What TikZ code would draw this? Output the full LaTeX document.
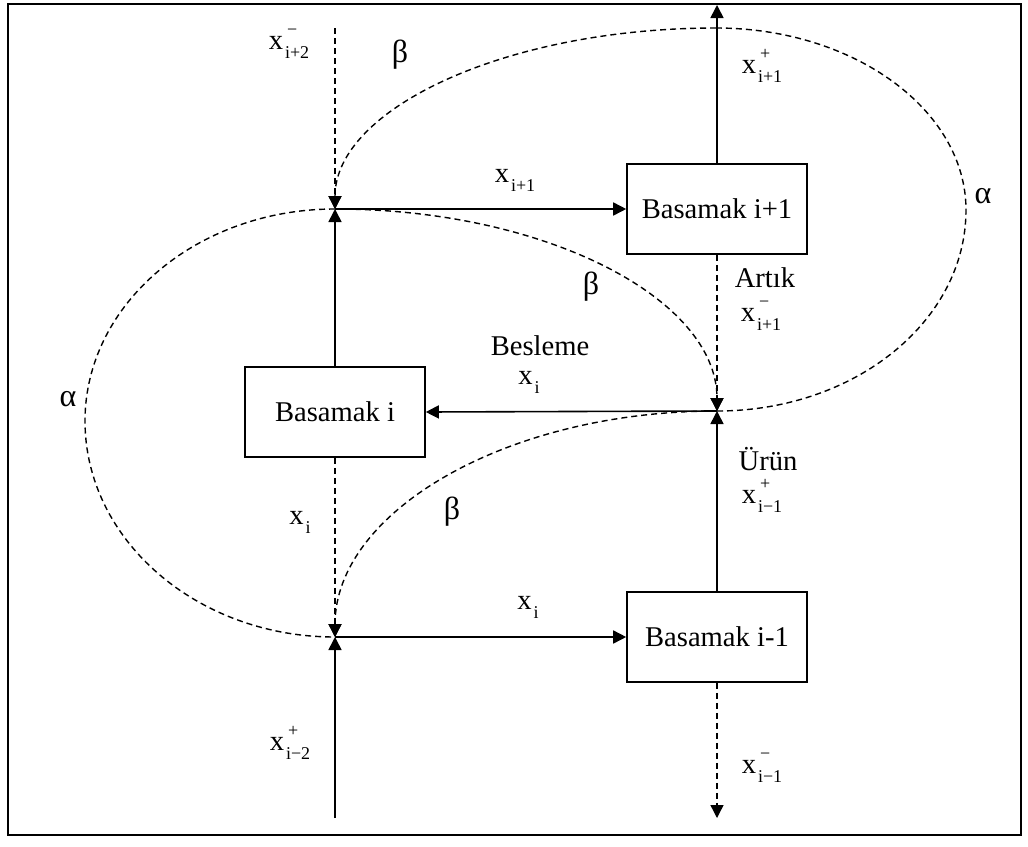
\documentclass[tikz,border=0pt]{standalone}
\usepackage{fontspec}
\setmainfont{Liberation Serif}
\usetikzlibrary{arrows.meta}

\newcommand\xlab[2]{x\kern1pt\makebox[0pt][l]{\raisebox{7pt}{\fontsize{9}{9}\selectfont\kern1pt#1}}\raisebox{-4.5pt}{\fontsize{9}{9}\selectfont #2}}

\begin{document}
\begin{tikzpicture}[x=0.5pt, y=-0.5pt, font=\fontsize{14.3}{16}\selectfont,
  stage/.style={draw, line width=0.8pt, minimum width=90pt, minimum height=45pt, inner sep=0pt},
  flow/.style={line width=0.8pt, -{Triangle[length=6.5pt,width=6.5pt]}},
  loopline/.style={line width=0.7pt, dash pattern=on 3pt off 2pt},
  lbl/.style={inner sep=0pt},
  greek/.style={inner sep=0pt, font=\fontsize{16}{16}\selectfont}]
  \useasboundingbox (0,0) rectangle (1028,846);
  \draw[line width=1.1pt] (8,4) rectangle (1021,835);

  \node[stage] (bi1) at (717,209) {Basamak i+1};
  \node[stage] (bi) at (335,412) {Basamak i};
  \node[stage] (bim1) at (717,637) {Basamak i-1};
  \coordinate (tj) at (335,209);
  \coordinate (rj) at (717,411);
  \coordinate (bj) at (335,637);
  \coordinate (in2) at (335,28);
  \coordinate (in1) at (335,818);
  \coordinate (out2) at (717,5);
  \coordinate (out1) at (717,818);
  \coordinate (ra) at (966,210);
  \coordinate (rt) at (716,28);
  \coordinate (la) at (85,421);

  % alpha ve beta donguleri
  \draw[loopline] (rj) .. controls +(138,0) and +(0,111) .. (ra)
    .. controls +(0,-100) and +(138,0) .. (rt);
  \draw[loopline, -{Triangle[length=6.5pt,width=6.5pt]}] (rt) .. controls +(-210,0) and +(0,-100) .. (tj);
  \draw[loopline, -{Triangle[length=6.5pt,width=6.5pt]}] (tj) .. controls +(211,0) and +(0,-112) .. (rj);
  \draw[loopline, -{Triangle[length=6.5pt,width=6.5pt]}] (rj) .. controls +(-211,0) and +(0,-125) .. (bj);
  \draw[loopline] (tj) .. controls +(-138,0) and +(0,-117) .. (la)
    .. controls +(0,119) and +(-138,0) .. (bj);

  % akislar
  \draw[flow, loopline] (in2) -- (tj);
  \draw[flow] (bi.north) -- (tj);
  \draw[flow] (tj) -- (bi1.west);
  \draw[flow] (bi1.north) -- (out2);
  \draw[flow, loopline] (bi1.south) -- (rj);
  \draw[flow] (bim1.north) -- (rj);
  \draw[flow] (rj) -- (bi.east);
  \draw[flow, loopline] (bi.south) -- (bj);
  \draw[flow] (in1) -- (bj);
  \draw[flow] (bj) -- (bim1.west);
  \draw[flow, loopline] (bim1.south) -- (out1);

  % etiketler
  \node[lbl] (lin2) at (289,44) {\xlab{−}{i+2}};
  \node[greek] (lbt) at (400,55) {β};
  \node[lbl] (lout2) at (762,66) {\xlab{+}{i+1}};
  \node[lbl] (lxt) at (515,180) {\xlab{}{i+1}};
  \node[greek] (lar) at (983,196) {α};
  \node[lbl] (lart) at (765,278) {Artık};
  \node[lbl] (lxart) at (761,316) {\xlab{−}{i+1}};
  \node[greek] (lbm) at (591,287) {β};
  \node[lbl] (lbes) at (540,346) {Besleme};
  \node[lbl] (lxbes) at (529,382) {\xlab{}{i}};
  \node[greek] (lal) at (68,399) {α};
  \node[lbl] (lxl) at (300,522) {\xlab{}{i}};
  \node[greek] (lbb) at (452,512) {β};
  \node[lbl] (lxb) at (528,607) {\xlab{}{i}};
  \node[lbl] (lur) at (768,459) {Ürün};
  \node[lbl] (lxur) at (762,496) {\xlab{+}{i−1}};
  \node[lbl] (lin1) at (290,743) {\xlab{+}{i−2}};
  \node[lbl] (lout1) at (762,768) {\xlab{−}{i−1}};
\end{tikzpicture}
\end{document}
